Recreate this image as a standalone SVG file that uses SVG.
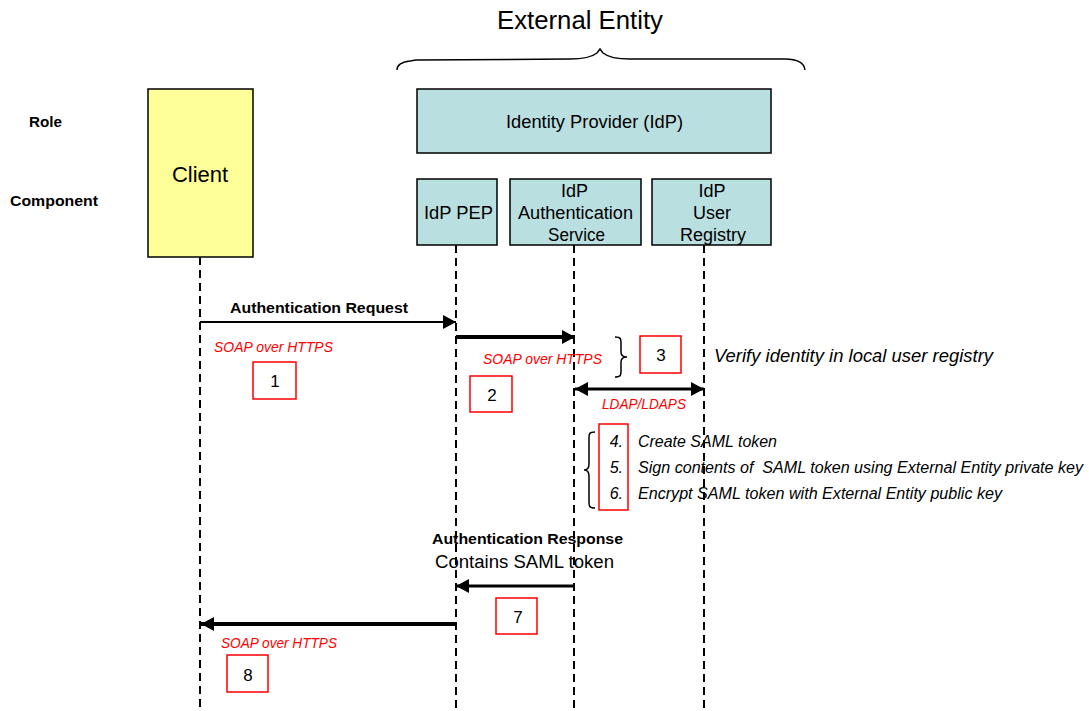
<svg xmlns="http://www.w3.org/2000/svg" width="1089" height="711" viewBox="0 0 1089 711">
<style>
text{font-family:"Liberation Sans",Arial,sans-serif;fill:#000}
.bold{font-weight:bold;font-size:14px}
.red{fill:#ff0000;font-style:italic;font-size:14px}
.it{font-style:italic;font-size:16px}
.num{font-size:17px;text-anchor:middle}
.box{font-size:18px}
.rbox{fill:#fff;stroke:#ff0000;stroke-width:1.5}
.idp{fill:#badfe1;stroke:#000;stroke-width:1.5}
.life{stroke:#000;stroke-width:2;stroke-dasharray:8,5;fill:none}
.brace{fill:none;stroke:#000;stroke-width:1.5}
</style>
<defs>
<marker id="ah" markerUnits="userSpaceOnUse" markerWidth="14" markerHeight="14" refX="13" refY="7" orient="auto"><path d="M0,0 L13,7 L0,14 Z" fill="#000"/></marker>
<marker id="as" markerUnits="userSpaceOnUse" markerWidth="14" markerHeight="14" refX="13" refY="7" orient="auto-start-reverse"><path d="M0,0 L13,7 L0,14 Z" fill="#000"/></marker>
</defs>
<rect width="1089" height="711" fill="#fff"/>

<text x="497" y="29" font-size="26" textLength="166" lengthAdjust="spacingAndGlyphs">External Entity</text>
<path class="brace" d="M397,70 C397,64 402,62 410,61 L416,60 L570,59 C585,59 592,57 597,53 L600,49 L603,53 C608,57 615,59 630,59 L785,59 C795,59 804,62 805,70"/>

<text class="bold" x="29" y="127" font-size="15" textLength="33" lengthAdjust="spacingAndGlyphs">Role</text>
<text class="bold" x="10" y="206" font-size="15" textLength="88" lengthAdjust="spacingAndGlyphs">Component</text>

<g id="lifelines">
<line class="life" x1="200" y1="257" x2="200" y2="711"/>
<line class="life" x1="456" y1="245" x2="456" y2="711"/>
<line class="life" x1="574" y1="245" x2="574" y2="711"/>
<line class="life" x1="704" y1="245" x2="704" y2="711"/>
</g>

<g id="client">
<rect x="148" y="89" width="105" height="168" fill="#ffff99" stroke="#000" stroke-width="1.5"/>
<text x="200" y="182" font-size="22" text-anchor="middle">Client</text>
</g>
<g id="idp">
<rect class="idp" x="417" y="89" width="354" height="64"/>
<text class="box" x="506" y="128" textLength="177" lengthAdjust="spacingAndGlyphs">Identity Provider (IdP)</text>
</g>
<g id="idp-pep">
<rect class="idp" x="417" y="179" width="80" height="66"/>
<text class="box" x="424" y="219" textLength="69" lengthAdjust="spacingAndGlyphs">IdP PEP</text>
</g>
<g id="idp-auth">
<rect class="idp" x="510" y="179" width="131" height="66"/>
<text class="box"><tspan x="561" y="197">IdP</tspan><tspan x="518" y="219" textLength="115" lengthAdjust="spacingAndGlyphs">Authentication</tspan><tspan x="548" y="241" textLength="57" lengthAdjust="spacingAndGlyphs">Service</tspan></text>
</g>
<g id="idp-registry">
<rect class="idp" x="652" y="179" width="119" height="66"/>
<text class="box" text-anchor="middle"><tspan x="712" y="197">IdP</tspan><tspan x="712" y="219">User</tspan><tspan x="713" y="241">Registry</tspan></text>
</g>

<g id="connectors" stroke="#000" fill="none">
<line x1="200" y1="322" x2="456" y2="322" stroke-width="2" marker-end="url(#ah)"/>
<line x1="456" y1="337" x2="575" y2="337" stroke-width="4" marker-end="url(#ah)"/>
<line x1="575" y1="389" x2="704" y2="389" stroke-width="3" marker-start="url(#as)" marker-end="url(#as)"/>
<line x1="574" y1="586" x2="456" y2="586" stroke-width="3" marker-end="url(#ah)"/>
<line x1="455" y1="624" x2="201" y2="624" stroke-width="4" marker-end="url(#ah)"/>
</g>

<g id="labels">
<text class="bold" x="230" y="313" textLength="178" lengthAdjust="spacingAndGlyphs">Authentication Request</text>
<text class="red" x="214" y="352" textLength="119" lengthAdjust="spacingAndGlyphs">SOAP over HTTPS</text>
<text class="red" x="483" y="364" textLength="119" lengthAdjust="spacingAndGlyphs">SOAP over HTTPS</text>
<text class="red" x="602" y="409" textLength="84" lengthAdjust="spacingAndGlyphs">LDAP/LDAPS</text>
<text class="red" x="221" y="648" textLength="116" lengthAdjust="spacingAndGlyphs">SOAP over HTTPS</text>
<text x="714" y="362" font-size="18.5" font-style="italic" textLength="279" lengthAdjust="spacingAndGlyphs">Verify identity in local user registry</text>
<text class="bold" x="432" y="544" textLength="191" lengthAdjust="spacingAndGlyphs">Authentication Response</text>
<text x="435" y="568" font-size="18" textLength="179" lengthAdjust="spacingAndGlyphs">Contains SAML token</text>
</g>

<g id="step1"><rect class="rbox" x="253" y="362" width="43" height="37"/><text class="num" x="275" y="387">1</text></g>
<g id="step2"><rect class="rbox" x="470" y="376" width="42" height="36"/><text class="num" x="492" y="401">2</text></g>
<g id="step3">
<path class="brace" d="M615,337 C621,337 621,339 621,343 L621,352 C621,356 623,357 627,357 C623,357 621,358 621,362 L621,371 C621,375 621,377 615,377"/>
<rect class="rbox" x="640" y="336" width="41" height="37"/><text class="num" x="661" y="361">3</text>
</g>
<g id="steps456">
<path class="brace" d="M595,432 C589,432 589,434 589,438 L589,464 C589,468 588,470 584,470 C588,470 589,472 589,476 L589,502 C589,506 589,508 595,508"/>
<rect class="rbox" x="599" y="424" width="29" height="86"/>
<text class="it" x="623" y="447" text-anchor="end">4.</text>
<text class="it" x="623" y="473" text-anchor="end">5.</text>
<text class="it" x="623" y="499" text-anchor="end">6.</text>
<text class="it" x="638" y="447" textLength="139" lengthAdjust="spacingAndGlyphs">Create SAML token</text>
<text class="it" x="638" y="473" textLength="445" lengthAdjust="spacingAndGlyphs" style="white-space:pre">Sign contents of  SAML token using External Entity private key</text>
<text class="it" x="638" y="499" textLength="364" lengthAdjust="spacingAndGlyphs">Encrypt SAML token with External Entity public key</text>
</g>
<g id="step7"><rect class="rbox" x="496" y="598" width="41" height="36"/><text class="num" x="518" y="623">7</text></g>
<g id="step8"><rect class="rbox" x="227" y="655" width="41" height="37"/><text class="num" x="248" y="681">8</text></g>
</svg>
